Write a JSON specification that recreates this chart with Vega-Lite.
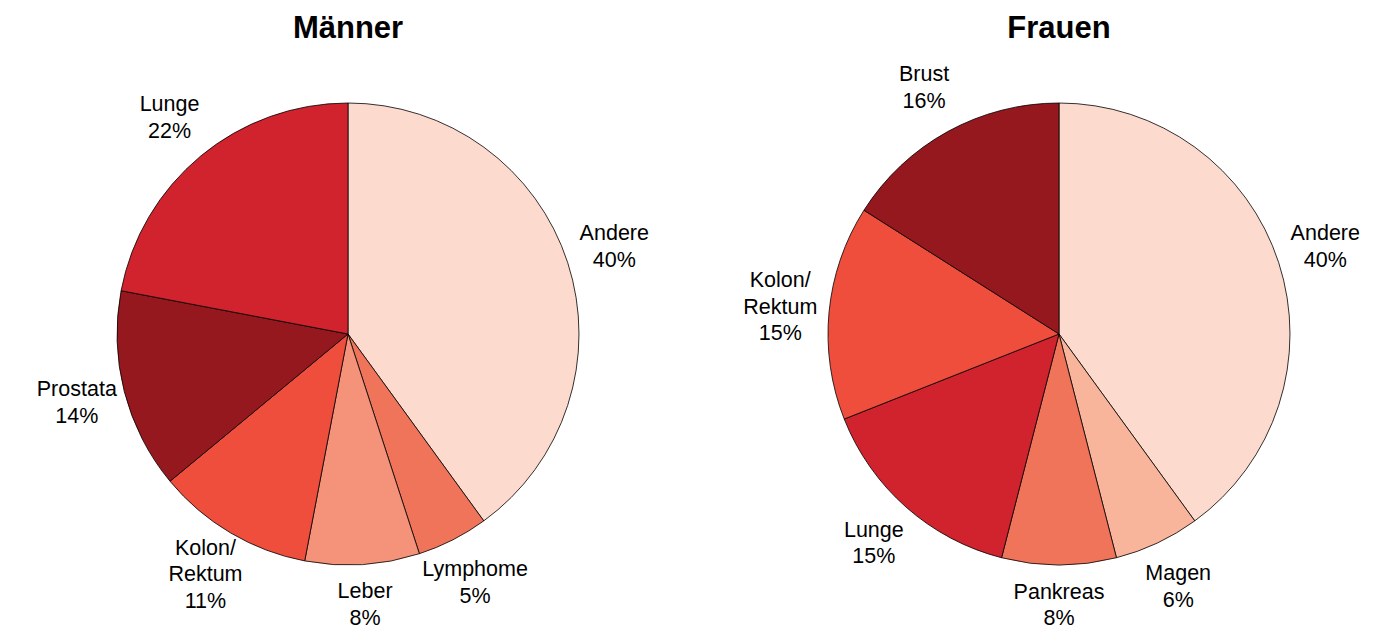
{
  "$schema": "https://vega.github.io/schema/vega-lite/v6.json",
  "padding": {"left": 0, "top": 13, "right": 0, "bottom": 0},
  "background": "white",
  "config": {
    "view": {"stroke": null},
    "font": "Liberation Sans",
    "title": {"fontSize": 31, "fontWeight": "bold", "color": "black", "anchor": "middle", "offset": 2},
    "text": {"fontSize": 21.5, "lineBreak": "\n", "lineHeight": 26.5, "align": "center", "baseline": "middle", "color": "black"},
    "arc": {"stroke": "black", "strokeWidth": 0.8},
    "concat": {"spacing": 43}
  },
  "data": {
    "values": [
      {"geschlecht": "Männer", "rang": 1, "kategorie": "Andere", "anteil": 40},
      {"geschlecht": "Männer", "rang": 2, "kategorie": "Lymphome", "anteil": 5},
      {"geschlecht": "Männer", "rang": 3, "kategorie": "Leber", "anteil": 8},
      {"geschlecht": "Männer", "rang": 4, "kategorie": "Kolon/Rektum", "anteil": 11},
      {"geschlecht": "Männer", "rang": 5, "kategorie": "Prostata", "anteil": 14},
      {"geschlecht": "Männer", "rang": 6, "kategorie": "Lunge", "anteil": 22},
      {"geschlecht": "Frauen", "rang": 1, "kategorie": "Andere", "anteil": 40},
      {"geschlecht": "Frauen", "rang": 2, "kategorie": "Magen", "anteil": 6},
      {"geschlecht": "Frauen", "rang": 3, "kategorie": "Pankreas", "anteil": 8},
      {"geschlecht": "Frauen", "rang": 4, "kategorie": "Lunge", "anteil": 15},
      {"geschlecht": "Frauen", "rang": 5, "kategorie": "Kolon/Rektum", "anteil": 15},
      {"geschlecht": "Frauen", "rang": 6, "kategorie": "Brust", "anteil": 16}
    ]
  },
  "transform": [
    {"stack": "anteil", "groupby": ["geschlecht"], "sort": [{"field": "rang", "order": "ascending"}], "as": ["start", "ende"]},
    {"calculate": "(datum.start + datum.ende) / 2", "as": "mitte"},
    {"calculate": "replace(datum.kategorie, '/', '/\\n') + '\\n' + datum.anteil + '%'", "as": "beschriftung"},
    {"calculate": "indexof(datum.kategorie, '/') >= 0 ? 3 : 2", "as": "zeilen"},
    {"calculate": "abs(cos(datum.mitte / 100 * 2 * PI)) > 0.95", "as": "senkrecht"}
  ],
  "hconcat": [
    {
      "title": "Männer",
      "width": 696,
      "height": 574,
      "transform": [{"filter": "datum.geschlecht === 'Männer'"}],
      "encoding": {
        "text": {"field": "beschriftung"}
      },
      "layer": [
        {
          "mark": {"type": "arc", "outerRadius": 231},
          "encoding": {
            "theta": {"field": "start", "type": "quantitative", "scale": {"domain": [0, 100]}},
            "theta2": {"field": "ende"},
            "color": {
              "field": "kategorie",
              "type": "nominal",
              "legend": null,
              "scale": {
                "domain": ["Andere", "Magen", "Leber", "Lymphome", "Pankreas", "Kolon/Rektum", "Lunge", "Prostata", "Brust"],
                "range": ["#fcdacd", "#f8b59b", "#f4937a", "#f07459", "#f07459", "#ef4e3c", "#d0232d", "#95181e", "#95181e"]
              }
            }
          }
        },
        {
          "transform": [{"filter": "datum.zeilen === 2 && datum.senkrecht"}],
          "mark": {"type": "text", "radius": 272, "dy": -13.25},
          "encoding": {"theta": {"field": "mitte", "type": "quantitative", "scale": {"domain": [0, 100]}}}
        },
        {
          "transform": [{"filter": "datum.zeilen === 2 && !datum.senkrecht"}],
          "mark": {"type": "text", "radius": 280, "dy": -13.25},
          "encoding": {"theta": {"field": "mitte", "type": "quantitative", "scale": {"domain": [0, 100]}}}
        },
        {
          "transform": [{"filter": "datum.zeilen === 3"}],
          "mark": {"type": "text", "radius": 280, "dy": -26.5},
          "encoding": {"theta": {"field": "mitte", "type": "quantitative", "scale": {"domain": [0, 100]}}}
        }
      ]
    },
    {
      "title": "Frauen",
      "width": 640,
      "height": 574,
      "transform": [{"filter": "datum.geschlecht === 'Frauen'"}],
      "encoding": {
        "text": {"field": "beschriftung"}
      },
      "layer": [
        {
          "mark": {"type": "arc", "outerRadius": 231},
          "encoding": {
            "theta": {"field": "start", "type": "quantitative", "scale": {"domain": [0, 100]}},
            "theta2": {"field": "ende"},
            "color": {
              "field": "kategorie",
              "type": "nominal",
              "legend": null,
              "scale": {
                "domain": ["Andere", "Magen", "Leber", "Lymphome", "Pankreas", "Kolon/Rektum", "Lunge", "Prostata", "Brust"],
                "range": ["#fcdacd", "#f8b59b", "#f4937a", "#f07459", "#f07459", "#ef4e3c", "#d0232d", "#95181e", "#95181e"]
              }
            }
          }
        },
        {
          "transform": [{"filter": "datum.zeilen === 2 && datum.senkrecht"}],
          "mark": {"type": "text", "radius": 272, "dy": -13.25},
          "encoding": {"theta": {"field": "mitte", "type": "quantitative", "scale": {"domain": [0, 100]}}}
        },
        {
          "transform": [{"filter": "datum.zeilen === 2 && !datum.senkrecht"}],
          "mark": {"type": "text", "radius": 280, "dy": -13.25},
          "encoding": {"theta": {"field": "mitte", "type": "quantitative", "scale": {"domain": [0, 100]}}}
        },
        {
          "transform": [{"filter": "datum.zeilen === 3"}],
          "mark": {"type": "text", "radius": 280, "dy": -26.5},
          "encoding": {"theta": {"field": "mitte", "type": "quantitative", "scale": {"domain": [0, 100]}}}
        }
      ]
    }
  ]
}
